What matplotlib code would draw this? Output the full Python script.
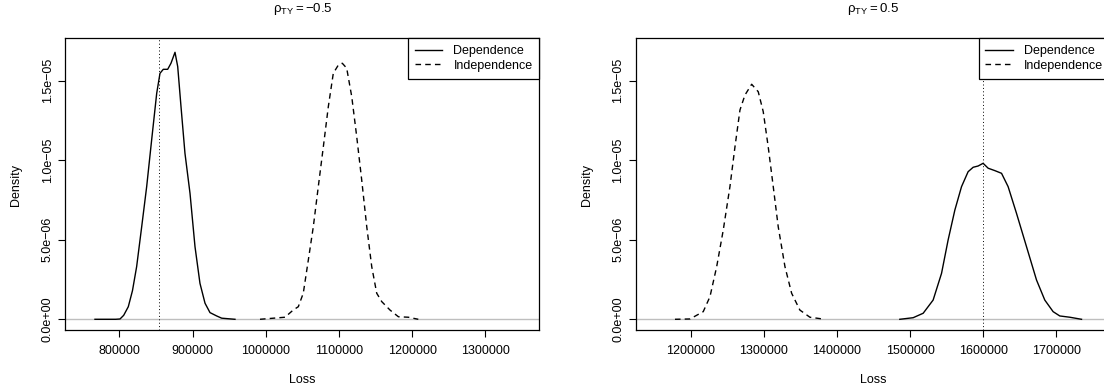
import numpy as np
import matplotlib
matplotlib.use("Agg")
import matplotlib.pyplot as plt

plt.rcParams['font.family'] = ['Liberation Sans', 'DejaVu Sans']
plt.rcParams['mathtext.fontset'] = 'custom'
plt.rcParams['mathtext.rm'] = 'Liberation Sans'
plt.rcParams['mathtext.it'] = 'Liberation Sans'

# rho = -0.5 : density of the loss
dep_neg_x = [766800, 795000, 801000, 806000, 812300, 818000, 823700, 830600, 837400,
             844200, 851100, 855600, 860100, 866100, 870600, 876100, 879800, 884300,
             889700, 896600, 903400, 910200, 917100, 923900, 933000, 939900, 958000]
dep_neg_y = [0, 0, 0.02e-6, 0.25e-6, 0.79e-6, 1.8e-6, 3.31e-6, 5.82e-6, 8.34e-6,
             11.28e-6, 14.21e-6, 15.47e-6, 15.72e-6, 15.72e-6, 16.1e-6, 16.79e-6,
             15.89e-6, 13.37e-6, 10.44e-6, 7.92e-6, 4.57e-6, 2.26e-6, 1.01e-6, 0.42e-6,
             0.21e-6, 0.07e-6, 0]
ind_neg_x = [992200, 1026300, 1038000, 1044500, 1051300, 1058200, 1065000, 1071800,
             1078700, 1085500, 1092300, 1099200, 1104600, 1110600, 1117500, 1124300,
             1131100, 1138000, 1144800, 1151600, 1158500, 1169800, 1181200, 1194800,
             1208400]
ind_neg_y = [0, 0.13e-6, 0.6e-6, 0.79e-6, 1.64e-6, 3.73e-6, 5.82e-6, 8.34e-6,
             10.85e-6, 13.37e-6, 15.47e-6, 15.99e-6, 16.1e-6, 15.79e-6, 14.0e-6,
             11.48e-6, 8.76e-6, 5.82e-6, 3.31e-6, 1.64e-6, 1.11e-6, 0.58e-6, 0.16e-6,
             0.13e-6, 0]

# rho = 0.5
dep_pos_x = [1486000, 1504200, 1517900, 1531500, 1543000, 1552000, 1561200, 1570300,
             1579300, 1586200, 1593000, 1599800, 1606700, 1615800, 1625000, 1634000,
             1645400, 1659100, 1672800, 1684100, 1695500, 1704600, 1718300, 1734300]
dep_pos_y = [0, 0.1e-6, 0.38e-6, 1.21e-6, 2.89e-6, 4.99e-6, 6.87e-6, 8.34e-6,
             9.28e-6, 9.56e-6, 9.64e-6, 9.81e-6, 9.5e-6, 9.35e-6, 9.18e-6, 8.34e-6,
             6.67e-6, 4.57e-6, 2.47e-6, 1.21e-6, 0.48e-6, 0.21e-6, 0.13e-6, 0]
ind_pos_x = [1178700, 1199200, 1217300, 1226500, 1235700, 1244700, 1253800, 1260700,
             1267500, 1274300, 1283500, 1292500, 1299300, 1306100, 1313000, 1319800,
             1329000, 1338100, 1349400, 1363100, 1383600]
ind_pos_y = [0, 0.02e-6, 0.48e-6, 1.42e-6, 3.31e-6, 5.62e-6, 8.34e-6, 10.85e-6,
             13.16e-6, 14.1e-6, 14.78e-6, 14.31e-6, 13.06e-6, 10.85e-6, 8.34e-6, 5.82e-6,
             3.31e-6, 1.64e-6, 0.58e-6, 0.13e-6, 0]

var_lines = [854600, 1600000]
titles = [r'$\mathrm{\rho_{TY} = -0.5}$', r'$\mathrm{\rho_{TY} = 0.5}$']
xticks = [[800000, 900000, 1000000, 1100000, 1200000, 1300000],
          [1200000, 1300000, 1400000, 1500000, 1600000, 1700000]]
xlims = [(726400, 1373800), (1125700, 1773500)]
yticks = [0, 5e-6, 1e-5, 1.5e-5]
ytick_labels = ['0.0e+00', '5.0e\u221206', '1.0e\u221205', '1.5e\u221205']

W, H = 1104, 389
fig = plt.figure(figsize=(W / 100, H / 100), dpi=100)

curves = [(dep_neg_x, dep_neg_y, ind_neg_x, ind_neg_y),
          (dep_pos_x, dep_pos_y, ind_pos_x, ind_pos_y)]
lefts = [65.4, 636.2]

for i in range(2):
    left = lefts[i]
    ax = fig.add_axes([left / W, 1 - 330 / H, 474 / W, (330 - 38.3) / H])
    dx, dy, ix, iy = curves[i]
    ax.axhline(0, color='#bebebe', lw=1.0, zorder=1)
    ax.plot(dx, dy, color='black', lw=1.0, label='Dependence', zorder=3)
    ax.plot(ix, iy, color='black', lw=1.0, linestyle=(0, (4, 3)),
            label='Independence', zorder=3)
    ax.axvline(var_lines[i], color='black', lw=0.7, linestyle=(0, (1, 2.5)), zorder=2)
    ax.set_xlim(*xlims[i])
    ax.set_ylim(-6.73e-7, 1.767e-5)
    ax.set_xticks(xticks[i])
    ax.set_xticklabels([str(v) for v in xticks[i]])
    ax.set_yticks(yticks)
    ax.set_yticklabels(ytick_labels, rotation=90, va='center')
    ax.tick_params(direction='out', length=5, width=0.8, labelsize=9, pad=6)
    ax.tick_params(axis='y', pad=3.5)
    for s in ax.spines.values():
        s.set_linewidth(0.9)
    leg = ax.legend(loc='upper right', borderaxespad=0, fancybox=False,
                    edgecolor='black', fontsize=9, handlelength=2.2,
                    handletextpad=0.9, borderpad=0.55, labelspacing=0.2,
                    framealpha=1)
    leg.get_frame().set_linewidth(0.9)

    cx = left + 237
    fig.text(cx / W, 1 - 9 / H, titles[i], ha='center', va='center', fontsize=9.5)
    fig.text(cx / W, 1 - 380 / H, 'Loss', ha='center', va='center', fontsize=9)
    fig.text((left - 49) / W, 1 - 185 / H, 'Density', ha='center', va='center',
             rotation=90, fontsize=9)

fig.savefig('out.png', dpi=100)
